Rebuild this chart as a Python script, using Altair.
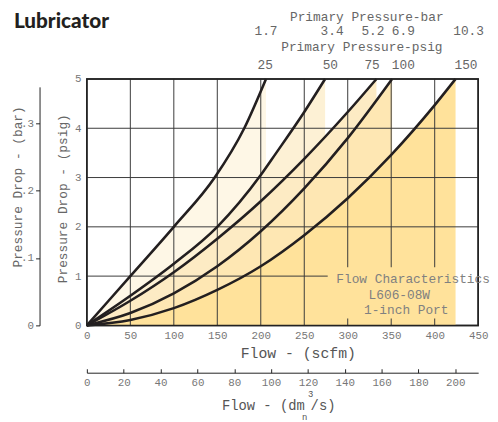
import altair as alt
import pandas as pd

# ---------------- data ----------------
curve_psig = ["25", "50", "75", "100", "150"]
curve_bar = ["1.7", "3.4", "5.2", "6.9", "10.3"]

flow_25 = [0, 50, 100, 147, 181, 206]
drop_25 = [0, 1.0, 2.0, 3.0, 4.0, 5.0]
flow_50 = [0, 50, 100, 150, 200, 217, 250, 274]
drop_50 = [0, 0.6, 1.25, 2.0, 3.05, 3.48, 4.33, 5.0]
flow_75 = [0, 50, 100, 150, 200, 250, 300, 333]
drop_75 = [0, 0.5, 1.08, 1.76, 2.52, 3.38, 4.33, 5.0]
flow_100 = [0, 50, 100, 150, 200, 250, 300, 351]
drop_100 = [0, 0.25, 0.65, 1.2, 1.91, 2.78, 3.8, 5.0]
flow_150 = [0, 50, 100, 150, 200, 250, 300, 350, 400, 424]
drop_150 = [0, 0.11, 0.35, 0.72, 1.2, 1.83, 2.58, 3.46, 4.47, 5.0]

flows = [flow_25, flow_50, flow_75, flow_100, flow_150]
drops = [drop_25, drop_50, drop_75, drop_100, drop_150]

# flow positions of the primary-pressure labels above the plot
psig_label_flow = [205, 280, 328, 364, 436]
bar_label_flow = [206, 282, 329, 364, 439]

x_ticks = list(range(0, 451, 50))
y_ticks = [0, 1, 2, 3, 4, 5]
bar_ticks = [0, 0.1, 0.2, 0.3]
dm_ticks = list(range(0, 201, 20))

grid_flow = [50, 100, 150, 200, 250, 300, 350, 400]
grid_drop = [1, 2, 3, 4]

# ---------------- build tables ----------------
rows = []
for name, fl, dr in zip(curve_psig, flows, drops):
    for f, d in zip(fl, dr):
        rows.append({"curve": name, "flow": f, "drop": d})
df = pd.DataFrame(rows)

vrows = []
for g in grid_flow:
    if g >= 300:
        vrows.append({"g": g, "a": 1.18, "b": 5})
        vrows.append({"g": g, "a": 0, "b": 0.14})
    else:
        vrows.append({"g": g, "a": 0, "b": 5})
vgrid_df = pd.DataFrame(vrows)
hgrid_df = pd.DataFrame({"g": grid_drop,
                         "a": [0] * len(grid_drop),
                         "b": [277 if g == 1 else 450 for g in grid_drop]})

W, H = 397, 250
MONO = "Liberation Mono"
xs = alt.Scale(domain=[0, 450], nice=False, zero=True)
ys = alt.Scale(domain=[0, 5], nice=False, zero=True)

x_axis = alt.Axis(values=x_ticks, ticks=False, domain=False, grid=False,
                  labelColor="#777", labelFontSize=11, labelPadding=4,
                  labelFont=MONO, titleFont=MONO,
                  labelFlush=False, title="Flow - (scfm)", titleX=214, titleY=28,
                  titleBaseline="middle", titleFontSize=15, titleColor="#555",
                  titleFontWeight="normal")
y_axis = alt.Axis(values=y_ticks, ticks=False, domain=False, grid=False,
                  labelColor="#777", labelFontSize=11, labelPadding=6,
                  labelFont=MONO, titleFont=MONO,
                  labelFlush=False, title="Pressure Drop - (psig)", titleX=-25,
                  titleY=121, titleBaseline="middle", titleFontSize=13,
                  titleColor="#666", titleFontWeight="normal")

area_colors = ["#FEF7E6", "#FDF1D5", "#FDEBC4", "#FEE7B3", "#FFE29B"]

layers = []
for name, col in zip(curve_psig, area_colors):
    layers.append(
        alt.Chart(df[df.curve == name]).mark_area(interpolate="monotone", color=col)
        .encode(x=alt.X("flow:Q", scale=xs, axis=x_axis),
                y=alt.Y("drop:Q", scale=ys, axis=y_axis))
    )

grid_color = "#3a3a3a"
layers.append(
    alt.Chart(vgrid_df).mark_rule(color=grid_color, strokeWidth=1)
    .encode(x=alt.X("g:Q", scale=xs, axis=x_axis),
            y=alt.Y("a:Q", scale=ys, axis=y_axis), y2="b:Q")
)
layers.append(
    alt.Chart(hgrid_df).mark_rule(color=grid_color, strokeWidth=1)
    .encode(y=alt.Y("g:Q", scale=ys, axis=y_axis),
            x=alt.X("a:Q", scale=xs, axis=x_axis), x2="b:Q")
)
layers.append(
    alt.Chart(df).mark_line(interpolate="monotone", color="#231F20", strokeWidth=2.6)
    .encode(x=alt.X("flow:Q", scale=xs, axis=x_axis),
            y=alt.Y("drop:Q", scale=ys, axis=y_axis),
            detail="curve:N")
)

# primary pressure labels above the plot
lab_df = pd.DataFrame({"psig": curve_psig, "bar": curve_bar,
                       "fp": psig_label_flow, "fb": bar_label_flow})
layers.append(
    alt.Chart(lab_df).mark_text(font=MONO, fontSize=13, color="#666", baseline="middle")
    .encode(x=alt.X("fp:Q", scale=xs, axis=x_axis), y=alt.value(-14), text="psig:N")
)
layers.append(
    alt.Chart(lab_df).mark_text(font=MONO, fontSize=13, color="#666", baseline="middle")
    .encode(x=alt.X("fb:Q", scale=xs, axis=x_axis), y=alt.value(-49), text="bar:N")
)

one = pd.DataFrame({"k": [0]})


def txt(s, x, y, size=13, color="#666", align="center", font=MONO, weight="normal",
        baseline="middle"):
    return (alt.Chart(one)
            .mark_text(text=s, font=font, fontSize=size, color=color, align=align,
                       fontWeight=weight, baseline=baseline)
            .encode(x=alt.value(x), y=alt.value(y)))


# plot frame
layers.append(
    alt.Chart(one).mark_rect(fillOpacity=0, stroke="#222", strokeWidth=1.5)
    .encode(x=alt.value(0), x2=alt.value(W), y=alt.value(0), y2=alt.value(H))
)

layers += [
    txt("Primary Pressure-bar", 284, -63),
    txt("Primary Pressure-psig", 279, -32),
    txt("Flow Characteristics", 331, 203, color="#808080"),
    txt("L606-08W", 317, 219, color="#808080"),
    txt("1-inch Port", 324, 234, color="#808080"),
    txt("Flow - (dm", 221, 332, size=14, color="#555", align="right"),
    txt("3", 227, 320, size=9, color="#555"),
    txt("/s)", 227, 332, size=14, color="#555", align="left"),
    txt("n", 221, 343, size=9, color="#555"),
    txt("Lubricator", -74, -52, size=21, color="#231F20", align="left",
        font="Lato", weight=900, baseline="alphabetic"),
]

main = alt.layer(*layers)

# secondary axes
bar_layer = alt.Chart(pd.DataFrame({"bar": bar_ticks})).mark_point(opacity=0).encode(
    y=alt.Y("bar:Q", scale=alt.Scale(domain=[0, 0.354], range=[250, 8], nice=False),
            axis=alt.Axis(orient="left", offset=48, values=bar_ticks,
                          labelExpr="datum.value == 0 ? '0' : '.' + round(datum.value * 10)",
                          title="Pressure Drop - (bar)", titleX=-22, titleY=109,
                          titleBaseline="middle", titleFontSize=13, titleColor="#666",
                          labelFont=MONO, titleFont=MONO,
                          titleFontWeight="normal", tickSize=4, domainColor="#222",
                          tickColor="#222", grid=False, labelPadding=2,
                          labelColor="#777", labelFontSize=11, labelFlush=False))
)

dm_scale = alt.Scale(domain=[0, 212.4], nice=False, zero=True)
dm_tick_layer = alt.Chart(pd.DataFrame({"dm": dm_ticks})).mark_point(opacity=0).encode(
    x=alt.X("dm:Q", scale=dm_scale,
            axis=alt.Axis(orient="top", offset=-298, values=dm_ticks, labels=False,
                          title=None, tickSize=4, domainColor="#222", tickColor="#222",
                          grid=False))
)
dm_label_layer = alt.Chart(pd.DataFrame({"dm": dm_ticks})).mark_point(opacity=0).encode(
    x=alt.X("dm:Q", scale=dm_scale,
            axis=alt.Axis(orient="bottom", offset=48, values=dm_ticks, ticks=False,
                          domain=False, title=None, grid=False, labelPadding=4,
                          labelFont=MONO,
                          labelColor="#777", labelFontSize=11, labelFlush=False))
)

chart = (
    alt.layer(main, bar_layer, dm_tick_layer, dm_label_layer)
    .resolve_scale(x="independent", y="independent")
    .properties(width=W, height=H, background="white",
                autosize=alt.AutoSizeParams(type="none"),
                padding={"left": 80, "top": 69, "right": 12, "bottom": 95})
    .configure_view(stroke="#222", strokeWidth=1.5)
    .configure_axis(labelFont=MONO, titleFont=MONO)
)

chart.save("out.html", embed_options={"renderer": "svg", "actions": False})
